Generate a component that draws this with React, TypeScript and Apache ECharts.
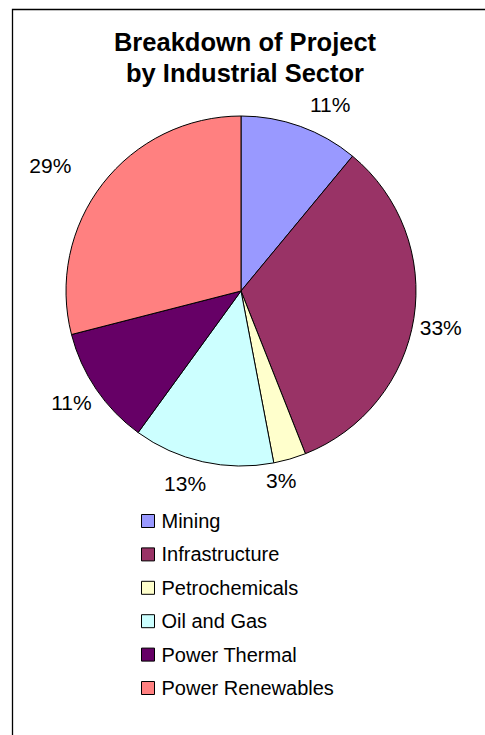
import React, { useEffect, useRef } from "react";
import * as echarts from "echarts";

const categories = ["Mining", "Infrastructure", "Petrochemicals", "Oil and Gas", "Power Thermal", "Power Renewables"];
const values = [11, 33, 3, 13, 11, 29];
const colors = ["#9999FF", "#993366", "#FFFFCC", "#CCFFFF", "#660066", "#FF8080"];
// fine placement nudges of the percentage labels (Excel-style label placement)
const labelNudges = [[2, -14], [-7, 8], [-31, 14], [10, 14], [7, 9], [-20, -13]];

export default function App() {
  const ref = useRef<HTMLDivElement>(null);
  useEffect(() => {
    document.body.style.margin = "0";
    const chart = echarts.init(ref.current!, null, { renderer: "svg" });
    const font = "'Liberation Sans', Arial, sans-serif";
    chart.setOption({
      animation: false,
      graphic: [
        {
          type: "rect",
          shape: { x: 12.5, y: 9.5, width: 520, height: 780 },
          style: { fill: "none", stroke: "#000", lineWidth: 1.3 },
          silent: true,
        },
      ],
      title: {
        text: "Breakdown of Project\nby Industrial Sector",
        left: 240,
        textAlign: "center",
        top: 21,
        textStyle: { fontFamily: font, fontSize: 25.5, fontWeight: "bold", color: "#000", lineHeight: 31 },
      },
      legend: {
        orient: "vertical",
        left: 141,
        top: 511,
        padding: 0,
        itemWidth: 13,
        itemHeight: 13,
        itemGap: 13.4,
        icon: "rect",
        data: categories,
        itemStyle: { borderColor: "#000", borderWidth: 1 },
        textStyle: { fontFamily: font, fontSize: 20, color: "#000", lineHeight: 20, padding: [0, 0, 0, 2] },
      },
      series: [
        {
          type: "pie",
          center: [241, 291],
          radius: 175,
          startAngle: 90,
          clockwise: true,
          avoidLabelOverlap: false,
          data: categories.map((c, i) => ({
            name: c,
            value: values[i],
            itemStyle: { color: colors[i] },
            label: { offset: labelNudges[i] },
          })),
          itemStyle: { borderColor: "#000", borderWidth: 1 },
          label: {
            show: true,
            position: "outside",
            formatter: "{d}%",
            fontFamily: font,
            fontSize: 21,
            color: "#000",
          },
          labelLine: { show: false, length: 8, length2: 0 },
          emphasis: { disabled: true },
        },
      ],
    });
    return () => chart.dispose();
  }, []);
  return <div ref={ref} style={{ position: "absolute", left: 0, top: 0, width: 485, height: 735 }} />;
}
